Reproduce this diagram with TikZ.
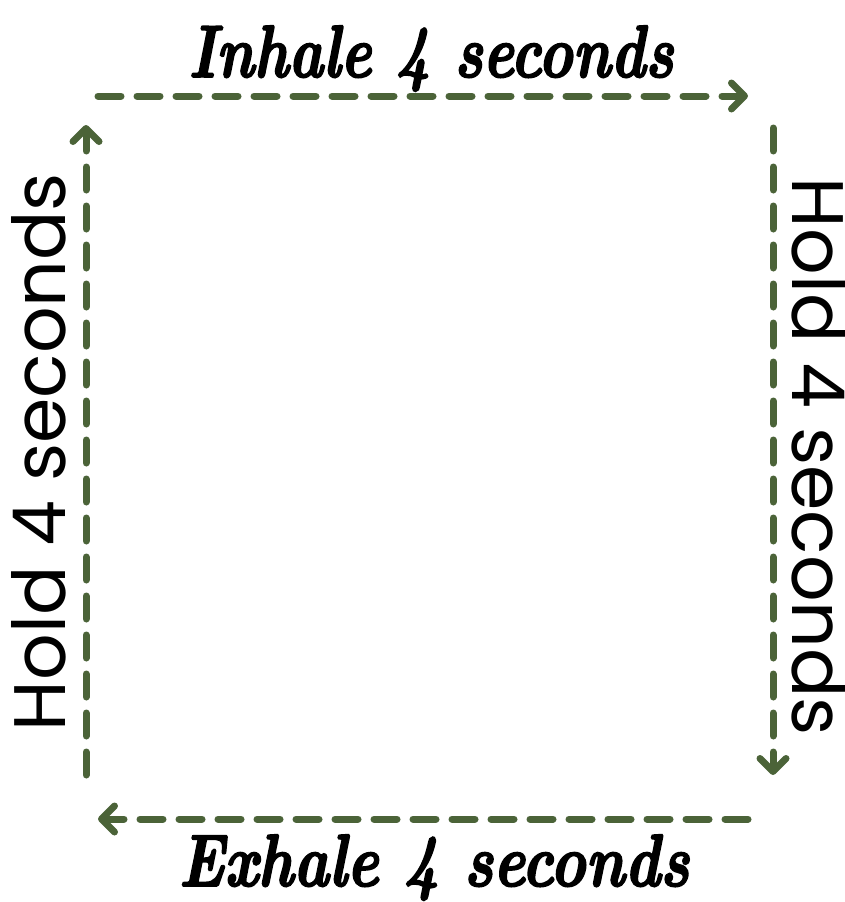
\documentclass[tikz,border=0pt]{standalone}
\usepackage{fontspec}
\setmainfont{Poppins}
\newfontfamily\scriptfam{lmroman10-bolditalic.otf}[FakeBold=2.5]
\usetikzlibrary{arrows.meta}
\definecolor{leaf}{HTML}{4B6338}
\newcommand{\scripttext}[2]{\scalebox{#1}[1.12]{\scriptfam\fontsize{66}{70}\selectfont #2}}
\tikzset{
  flow/.style={draw=leaf, line width=7pt, line cap=round, dash pattern=on 23pt off 16pt,
    -{Straight Barb[length=13pt,width=26pt,line join=round,line cap=round]}},
  scriptlbl/.style={anchor=base, inner sep=0pt},
  sanslbl/.style={font=\fontsize{73}{80}\selectfont, anchor=base, inner sep=0pt}
}
\begin{document}
\begin{tikzpicture}[x=1pt,y=-1pt]
\useasboundingbox (0,0) rectangle (844,902);
\coordinate (ta) at (98,96);  \coordinate (tb) at (748,96);
\coordinate (ra) at (773,128); \coordinate (rb) at (773,775);
\coordinate (ba) at (748,819); \coordinate (bb) at (98,819);
\coordinate (la) at (86,775);  \coordinate (lb) at (86,125);
\draw[flow] (ta) -- (tb);
\draw[flow] (ra) -- (rb);
\draw[flow] (ba) -- (bb);
\draw[flow] (la) -- (lb);
\node[scriptlbl] (inh) at (431,77) {\scripttext{0.885}{Inhale 4 seconds}};
\node[scriptlbl] (exh) at (434,886) {\scripttext{0.91}{Exhale 4 seconds}};
\node[sanslbl, rotate=90] (hl) at (65,452) {Hold 4 seconds};
\node[sanslbl, rotate=-90] (hr) at (792,457) {Hold 4 seconds};
\end{tikzpicture}
\end{document}
